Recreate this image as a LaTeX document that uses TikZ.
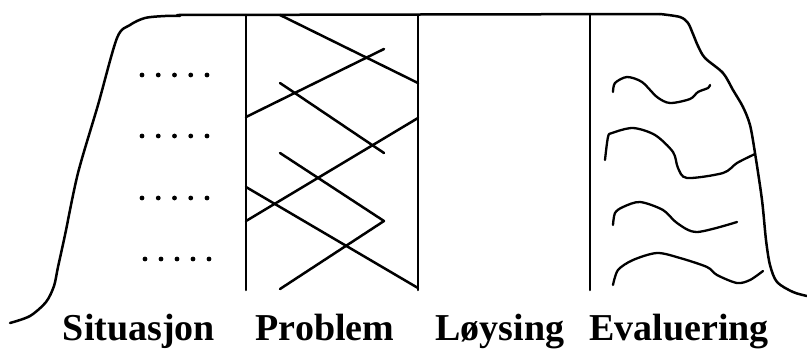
\documentclass[tikz,border=0pt]{standalone}
\usepackage{fontspec}
\setmainfont{Liberation Serif}
\usetikzlibrary{positioning, calc}

\begin{document}
\begin{tikzpicture}[x=1pt, y=-1pt, line width=2.5pt, line join=round, line cap=round]
  \tikzstyle{phase} = [anchor=base, inner sep=0pt, font=\fontsize{38}{40}\selectfont\bfseries]
  \tikzstyle{wave} = [line width=2.3pt]

  \useasboundingbox (0,0) rectangle (807,349);

  % outline
  \draw plot[smooth] coordinates {(10,323) (30,316) (46,302) (54,286) (58,267) (65,235)
      (78,173) (98,105) (117,38) (130,25) (145,18) (165,16) (180,16)};
  \draw (177,15) -- (660,14);
  \draw plot[smooth] coordinates {(660,14) (680,17) (688,23) (693,34) (698,46) (705,58)
      (723,73) (733,90) (743,107) (750,125) (755,153) (762,200) (766,240) (770,265)
      (777,282) (793,292) (807,296)};

  % columns
  \coordinate (p1) at (246,15);
  \coordinate (p2) at (418,15);
  \coordinate (p3) at (590,15);
  \draw (p1) -- (246,290);
  \draw (p2) -- (418,290);
  \draw (p3) -- (590,290);

  % dots
  \foreach \y in {75,136,198}
    \foreach \x in {0,...,4}
      \fill (142+16.25*\x,\y) circle (2.4pt);
  \foreach \x in {0,...,4}
    \fill (145+16*\x,259) circle (2.4pt);

  % problem zigzag
  \draw (280,15) -- (418,83);
  \draw (384,49) -- (246,117);
  \draw (280,83) -- (384,153);
  \draw (418,118) -- (246,221);
  \draw (280,153) -- (384,221) -- (280,289);
  \draw (246,187) -- (418,288);

  % evaluation scribbles
  \draw[wave] plot[smooth] coordinates {(613,92) (615,83) (627,77) (642,82) (657,97)
      (670,103) (690,99) (698,92) (708,88) (710,85)};
  \draw[wave] plot[smooth] coordinates {(605,160) (608,137) (612,133) (633,128) (655,135)
      (673,152) (678,168) (687,178) (723,173) (737,163) (755,154)};
  \draw[wave] plot[smooth] coordinates {(613,225) (615,213) (623,207) (640,202) (663,210)
      (677,223) (697,232) (737,222)};
  \draw[wave] plot[smooth] coordinates {(613,285) (618,270) (633,260) (657,253) (680,258)
      (707,267) (717,275) (737,283) (750,280) (763,271)};

  % labels
  \node[phase] (situasjon) at (139,340) {Situasjon};
  \node[phase] (problem) at (325,340) {Problem};
  \node[phase] (loysing) at (500,340) {Løysing};
  \node[phase] (evaluering) at (679,340) {Evaluering};
\end{tikzpicture}
\end{document}
